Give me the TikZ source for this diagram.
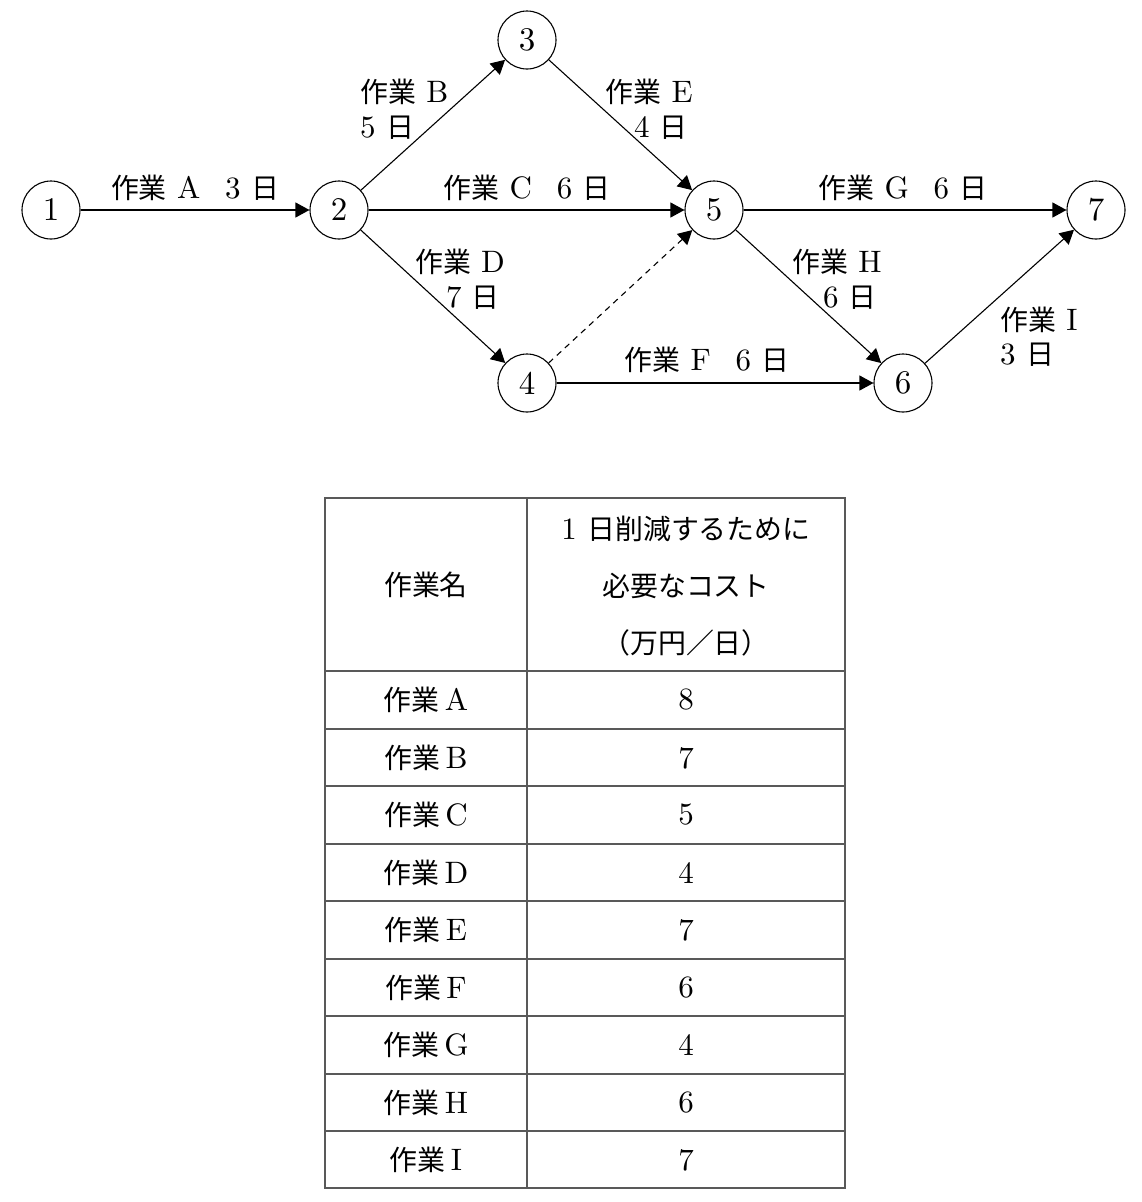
\documentclass[tikz,border=0pt]{standalone}
\usepackage{fontspec}
\setmainfont{lmroman10-regular.otf}
\newfontfamily\cjk{Noto Sans CJK JP}[Scale=0.9]
\usetikzlibrary{arrows.meta}
\newcommand\sagyo{{\cjk 作業}}
\newcommand\Nichi{{\cjk 日}}
\begin{document}
\begin{tikzpicture}[x=1pt,y=-1pt,
  ev/.style={circle,draw,line width=1.1pt,minimum size=58pt,inner sep=0pt,font=\fontsize{33}{33}\selectfont},
  arr/.style={-{Triangle[length=14pt,width=15pt]},line width=1.1pt},
  dum/.style={arr,dash pattern=on 6pt off 5pt},
  lab/.style={inner sep=0pt,font=\fontsize{31}{33}\selectfont},
  tab/.style={draw=black!65,line width=1.3pt},
  tx/.style={inner sep=0pt,font=\fontsize{31}{33}\selectfont}]
\useasboundingbox[fill=white] (0,0) rectangle (1142,1202);
% events
\node[ev] (n1) at (51,210) {1};
\node[ev] (n2) at (339,210) {2};
\node[ev] (n3) at (527,40) {3};
\node[ev] (n4) at (527,383) {4};
\node[ev] (n5) at (714,210) {5};
\node[ev] (n6) at (903,383) {6};
\node[ev] (n7) at (1096,210) {7};
% activities
\draw[arr] (n1) -- (n2);
\draw[arr] (n2) -- (n3);
\draw[arr] (n2) -- (n5);
\draw[arr] (n2) -- (n4);
\draw[arr] (n3) -- (n5);
\draw[dum] (n4) -- (n5);
\draw[arr] (n4) -- (n6);
\draw[arr] (n5) -- (n7);
\draw[arr] (n5) -- (n6);
\draw[arr] (n6) -- (n7);
% labels
\node[lab] (lA) at (195,188) {\sagyo\ A\hspace{0.8em}3\ \Nichi};
\node[lab,anchor=west] (lB1) at (360,92) {\sagyo\ B};
\node[lab,anchor=west] (lB2) at (360,128) {5\ \Nichi};
\node[lab] (lC) at (527,188) {\sagyo\ C\hspace{0.8em}6\ \Nichi};
\node[lab] (lD1) at (460,262) {\sagyo\ D};
\node[lab] (lD2) at (473,298) {7\ \Nichi};
\node[lab] (lE1) at (649,92) {\sagyo\ E};
\node[lab] (lE2) at (661,128) {4\ \Nichi};
\node[lab] (lF) at (707,360) {\sagyo\ F\hspace{0.8em}6\ \Nichi};
\node[lab] (lG) at (903,188) {\sagyo\ G\hspace{0.8em}6\ \Nichi};
\node[lab] (lH1) at (837,262) {\sagyo\ H};
\node[lab] (lH2) at (850,298) {6\ \Nichi};
\node[lab,anchor=west] (lI1) at (1000,320) {\sagyo\ I};
\node[lab,anchor=west] (lI2) at (1000,355) {3\ \Nichi};
% table
\draw[tab] (325,498) rectangle (845,1188);
\draw[tab] (527,498) -- (527,1188);
\foreach \yy in {671,729,786,844,901,959,1016,1074,1131}
  \draw[tab] (325,\yy) -- (845,\yy);
\node[tx] (h1) at (426,585) {{\cjk 作業名}};
\node[tx] (h2a) at (686,529) {1\ {\cjk 日削減するために}};
\node[tx] (h2b) at (686,586) {{\cjk 必要なコスト}};
\node[tx] (h2c) at (686,643) {{\cjk （万円／日）}};
\foreach \nm/\val/\yy [count=\i] in {A/8/700,B/7/758,C/5/815,D/4/873,E/7/930,F/6/988,G/4/1045,H/6/1103,I/7/1160}{
  \node[tx] (r\i a) at (426,\yy) {\sagyo\,\nm};
  \node[tx] (r\i b) at (686,\yy) {\val};
}
\end{tikzpicture}
\end{document}
